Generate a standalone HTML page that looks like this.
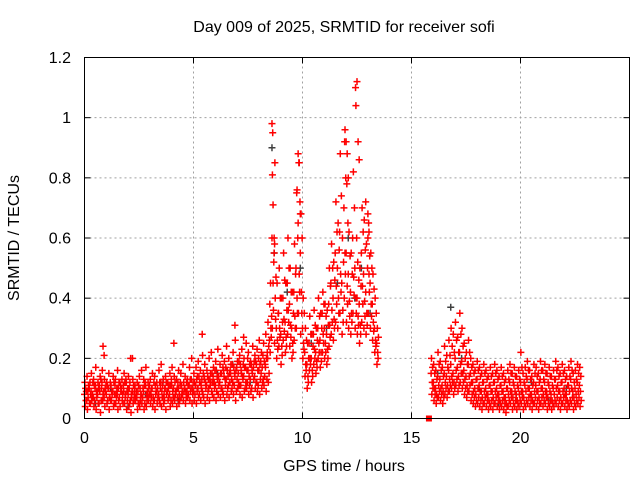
<!DOCTYPE html>
<html><head><meta charset="utf-8"><style>
html,body{margin:0;padding:0;background:#fff;}
svg{display:block;font-family:"Liberation Sans",sans-serif;}
</style></head><body>
<svg id="chart" width="640" height="480" viewBox="0 0 640 480" xmlns="http://www.w3.org/2000/svg">
<rect width="640" height="480" fill="#fff"/>
<text x="344" y="32" font-size="16" text-anchor="middle">Day 009 of 2025, SRMTID for receiver sofi</text>
<text transform="translate(19,238) rotate(-90)" font-size="16" text-anchor="middle">SRMTID / TECUs</text>
<text x="344" y="471" font-size="16" text-anchor="middle">GPS time / hours</text>
<g id="grid"></g>
<g id="gray"></g>
<g id="red"></g>
<rect x="84.5" y="57.5" width="545" height="361" fill="none" stroke="#000" stroke-width="1"/>
<g id="ticks"></g>
</svg>
<script>
const xTicks=[0,5,10,15,20,25];
const xTickLabels=["0","5","10","15","20",""];
const yTicks=[0,0.2,0.4,0.6,0.8,1,1.2];
const yTickLabels=["0","0.2","0.4","0.6","0.8","1","1.2"];
const segStarts=[0,5,8.5,15.9];
const redA1=[.08,.06,.10,.09,.07,.11,.08,.09,.12,.07,.08,.10,.06,.09,.11,.08,.07,.10,.09,.13,.08,.06,.09,.10,.07,.05,.08,.09,.11,.07,.08,.10,.06,.09,.08,.12,.07,.10,.09,.08,.11,.07,.09,.10,.12,.08,.10,.09,.11,.13];
const redA2=[.12,.14,.10,.15,.13,.17,.12,.14,.16,.13,.12,.15,.11,.14,.13,.16,.12,.13,.15,.12,.14,.20,.13,.11,.12,.14,.16,.13,.17,.12,.13,.15,.14,.12,.16,.18,.13,.14,.12,.15,.17,.14,.13,.16,.15,.18,.14,.13,.17,.20];
const redA3=[.04,.03,.05,.06,.04,.03,.05,.02,.06,.04,.05,.03,.06,.04,.05,.03,.04,.06,.05,.03,.04,.02,.05,.06,.03,.04,.05,.03,.04,.06,.05,.04,.03,.05,.06,.04,.05,.03,.06,.04,.05,.06,.04,.05,.07,.06,.05,.07,.06,.05];
const redA4=[.10,.09,.12,.07,.11,.09,.10,.13,.08,.10,.11,.07,.09,.12,.08,.10,.11,.08,.12,.09,.10,.08,.11,.07,.09,.10,.07,.11,.08,.10,.09,.07,.11,.10,.12,.09,.08,.12,.10,.11,.09,.12,.10,.08,.11,.12,.09,.11,.13,.10];
const redA5=[.06,.07,.05,.08,.06,.07,.05,.06,.08,.09,.06,.07,.08,.05,.07,.06,.09,.05,.07,.06,.05,.07,.06,.08,.05,.06,.07,.05,.06,.08,.07,.06,.08,.07,.05,.07,.06,.08,.07,.06,.07,.08,.07,.06,.08,.09,.07,.08,.09,.08];
const redA6=[.09,.11,.08,.12,.10,.09,.11,.10,.09,.11,.10,.12,.09,.08,.10,.12,.09,.11,.08,.10,.12,.09,.08,.09,.11,.08,.10,.12,.09,.11,.10,.12,.09,.08,.10,.11,.10,.09,.11,.13,.10,.09,.12,.11,.09,.10,.12,.11,.10,.12];
const redB1=[.09,.11,.10,.12,.09,.13,.11,.10,.12,.14,.11,.13,.12,.10,.14,.13,.11,.15,.12,.14,.13,.11,.15,.14,.12,.16,.13,.15,.14,.12,.16,.15,.13,.17,.20];
const redB2=[.15,.17,.19,.16,.21,.18,.16,.20,.22,.17,.19,.23,.18,.21,.19,.24,.20,.18,.22,.26,.19,.21,.23,.20,.25,.22,.19,.24,.21,.23,.26,.22,.25,.28,.32];
const redB3=[.06,.05,.07,.06,.08,.05,.07,.06,.09,.07,.06,.08,.07,.09,.06,.08,.07,.09,.08,.06,.10,.08,.07,.09,.10,.08,.09,.07,.10,.09,.08,.10,.11,.09,.12];
const redB4=[.12,.13,.14,.11,.15,.12,.14,.13,.15,.12,.16,.14,.15,.17,.13,.16,.15,.13,.17,.16,.15,.18,.14,.17,.16,.14,.18,.17,.19,.16,.18,.17,.19,.20,.24];
const redB5=[.08,.09,.08,.10,.07,.10,.09,.11,.08,.10,.09,.11,.10,.08,.11,.10,.12,.10,.11,.09,.12,.11,.13,.10,.12,.11,.10,.13,.12,.11,.13,.12,.14,.13,.15];
const redB6=[.11,.14,.12,.13,.14,.11,.13,.15,.12,.16,.14,.12,.15,.16,.17,.14,.16,.18,.15,.17,.19,.16,.18,.17,.20,.18,.16,.19,.18,.20,.19,.21,.18,.22,.26];
const redC1=[.38,.60,.55,.30,.35,.28,.40,.32,.45,.38,.30,.42,.50,.65,.55,.30,.22,.18,.25,.20,.28,.22,.30,.26,.35,.30,.28,.38,.45,.40,.55,.50,.62,.45,.70,.55,.48,.42,.60,.50,.40,.38,.55,.48,.42,.60,.45,.38,.30,.25];
const redC2=[.22,.30,.25,.20,.24,.18,.26,.22,.28,.24,.20,.26,.30,.35,.28,.20,.14,.10,.16,.12,.18,.15,.20,.17,.22,.20,.18,.24,.28,.26,.32,.30,.35,.28,.40,.32,.30,.28,.35,.30,.28,.25,.32,.30,.28,.35,.30,.26,.22,.18];
const redC3=[.45,.95,.85,.45,.50,.40,.55,.45,.60,.50,.42,.58,.75,.85,.68,.40,.30,.25,.34,.28,.36,.30,.40,.35,.42,.38,.36,.50,.58,.52,.72,.65,.88,.60,.92,.78,.62,.55,.82,1.1,.52,.50,.70,.66,.58,.65,.55,.48,.40,.30];
const redC4=[.30,.45,.40,.26,.30,.24,.33,.27,.36,.31,.25,.34,.40,.48,.42,.25,.18,.14,.20,.16,.23,.19,.25,.22,.28,.25,.23,.31,.36,.33,.44,.40,.48,.36,.55,.44,.39,.35,.47,.40,.34,.31,.44,.39,.35,.48,.38,.32,.26,.22];
const redC5=[.27,.36,.33,.23,.27,.21,.29,.24,.32,.27,.22,.30,.35,.42,.35,.23,.16,.12,.18,.14,.20,.17,.22,.19,.25,.22,.20,.27,.32,.30,.38,.35,.42,.32,.48,.38,.34,.32,.41,.35,.31,.28,.38,.34,.31,.42,.34,.29,.24,.20];
const redC6=[.34,.52,.47,.35,.40,.32,.46,.36,.50,.42,.35,.48,.60,.72,.60,.35,.26,.20,.28,.24,.31,.26,.34,.30,.38,.34,.31,.44,.50,.46,.62,.56,.74,.52,.80,.65,.54,.48,.70,.60,.46,.44,.62,.56,.50,.54,.50,.43,.35,.27];
const redD1=[.15,.12,.10,.14,.13,.11,.15,.14,.16,.18,.15,.20,.17,.22,.19,.16,.14,.18,.15,.12,.10,.13,.11,.09,.12,.10,.08,.11,.09,.12,.10,.08,.11,.09,.07,.10,.12,.09,.11,.08,.10,.12,.09,.11,.13,.10,.08,.12,.11,.09,.13,.10,.12,.09,.11,.08,.10,.13,.11,.09,.12,.10,.08,.11,.13,.09,.10,.12,.11];
const redD2=[.20,.18,.16,.22,.19,.17,.24,.21,.26,.30,.28,.32,.27,.35,.30,.25,.22,.26,.20,.18,.16,.19,.17,.15,.18,.16,.14,.17,.15,.18,.16,.14,.17,.15,.13,.16,.18,.15,.17,.14,.16,.22,.15,.17,.19,.16,.14,.18,.17,.15,.19,.16,.18,.15,.17,.14,.16,.19,.17,.15,.18,.16,.14,.17,.19,.15,.16,.18,.17];
const redD3=[.08,.06,.05,.07,.06,.05,.08,.07,.09,.10,.08,.11,.09,.12,.10,.08,.07,.09,.06,.05,.04,.05,.04,.03,.05,.04,.03,.04,.03,.05,.04,.03,.04,.03,.02,.04,.05,.03,.04,.03,.04,.05,.03,.04,.05,.04,.03,.05,.04,.03,.05,.04,.05,.03,.04,.03,.04,.05,.04,.03,.05,.04,.03,.04,.05,.03,.04,.05,.04];
const redD4=[.12,.10,.08,.11,.10,.09,.12,.11,.13,.14,.12,.16,.14,.18,.15,.13,.11,.14,.12,.09,.08,.10,.09,.07,.09,.08,.06,.09,.07,.09,.08,.06,.09,.07,.05,.08,.09,.07,.09,.06,.08,.09,.07,.09,.10,.08,.06,.09,.09,.07,.10,.08,.09,.07,.09,.06,.08,.10,.09,.07,.09,.08,.06,.09,.10,.07,.08,.09,.09];
const redD5=[.17,.15,.13,.18,.16,.14,.19,.17,.21,.24,.22,.26,.22,.28,.24,.20,.18,.22,.17,.15,.13,.16,.14,.12,.15,.13,.11,.14,.12,.15,.13,.11,.14,.12,.10,.13,.15,.12,.14,.11,.13,.17,.12,.14,.16,.13,.11,.15,.14,.12,.16,.13,.15,.12,.14,.11,.13,.16,.14,.12,.15,.13,.11,.14,.16,.12,.13,.15,.14];
const redD6=[.10,.08,.07,.09,.08,.07,.10,.09,.11,.12,.10,.13,.11,.15,.12,.10,.09,.11,.08,.07,.06,.07,.06,.05,.07,.06,.05,.06,.05,.07,.06,.05,.06,.05,.04,.06,.07,.05,.06,.05,.06,.07,.05,.06,.07,.06,.05,.07,.06,.05,.07,.06,.07,.05,.06,.05,.06,.07,.06,.05,.07,.06,.05,.06,.07,.05,.06,.07,.06];
const tPeak=[8.6,8.62,8.65,8.7,8.72,9.75,9.8,9.85,9.9,11.95,12.0,12.05,12.1,12.45,12.5,12.55,12.6,12.9,13.0,13.05,0.85,0.9,2.2,4.1,5.4,6.9,7.3];
const vPeak=[0.98,0.81,0.71,0.6,0.58,0.76,0.88,0.85,0.68,0.96,0.92,0.88,0.8,1.04,1.12,0.92,0.86,0.72,0.68,0.62,0.24,0.21,0.2,0.25,0.28,0.31,0.27];
const tGray=[0.5,1.2,2.0,2.8,3.6,4.3,5.2,6.1,6.8,7.6,8.6,8.7,9.3,9.9,10.4,11.1,11.6,12.1,12.4,12.7,13.1,16.2,16.8,17.3,18.1,19.0,19.8,20.5,21.3,22.1];
const vGray=[0.05,0.1,0.04,0.08,0.12,0.06,0.1,0.15,0.18,0.12,0.9,0.55,0.42,0.5,0.25,0.3,0.45,0.6,0.4,0.5,0.35,0.15,0.37,0.2,0.1,0.05,0.08,0.12,0.06,0.1];
const tOut=[15.8];
const vOut=[0.0];

const NS="http://www.w3.org/2000/svg";
const X0=84.5,X1=629.5,Y0=418.5,Y1=57.5;
function xs(t){return X0+(t-0)/(25-0)*(X1-X0);}
function ys(v){return Y0-(v-0)/(1.2-0)*(Y0-Y1);}
const grid=document.getElementById('grid'),ticks=document.getElementById('ticks');
function line(g,x1,y1,x2,y2,st,dash){const l=document.createElementNS(NS,'line');l.setAttribute('x1',x1);l.setAttribute('y1',y1);l.setAttribute('x2',x2);l.setAttribute('y2',y2);l.setAttribute('stroke',st);if(dash)l.setAttribute('stroke-dasharray',dash);g.appendChild(l);return l;}
xTicks.forEach((t,i)=>{const x=xs(t);
 if(t>0&&t<25){const gl=line(grid,x,Y0,x,Y1,'#a0a0a0','2,3');
 
 }
 line(ticks,x,Y0,x,Y0-6,'#000');line(ticks,x,Y1,x,Y1+6,'#000');
 const tx=document.createElementNS(NS,'text');tx.setAttribute('x',x);tx.setAttribute('y',443);tx.setAttribute('font-size','16');tx.setAttribute('text-anchor','middle');tx.textContent=xTickLabels[i];
 
 
 ticks.appendChild(tx);});
yTicks.forEach((v,i)=>{const y=ys(v);
 if(v>0&&v<1.2){const gl=line(grid,X0,y,X1,y,'#a0a0a0','2,3');
 
 }
 line(ticks,X0,y,X0+6,y,'#000');line(ticks,X1,y,X1-6,y,'#000');
 const tx=document.createElementNS(NS,'text');tx.setAttribute('x',71);tx.setAttribute('y',y+5.5);tx.setAttribute('font-size','16');tx.setAttribute('text-anchor','end');tx.textContent=yTickLabels[i];
 
 
 ticks.appendChild(tx);});
function plus(g,t,v,col,name){const x=xs(t),y=ys(v);const p=document.createElementNS(NS,'path');
 p.setAttribute('d','M'+(x-3.5)+' '+y+'h7M'+x+' '+(y-3.5)+'v7');p.setAttribute('stroke',col);p.setAttribute('stroke-width','1.5');p.setAttribute('fill','none');
 
 
 g.appendChild(p);}
const gray=document.getElementById('gray'),red=document.getElementById('red');
for(let i=0;i<tGray.length;i++)plus(gray,tGray[i],vGray[i],'#404040','gray-point');
const segs=[[redA1,redA2,redA3,redA4,redA5,redA6],[redB1,redB2,redB3,redB4,redB5,redB6],[redC1,redC2,redC3,redC4,redC5,redC6],[redD1,redD2,redD3,redD4,redD5,redD6]];
segs.forEach((arrs,s)=>{arrs.forEach((arr,k)=>{arr.forEach((v,i)=>{plus(red,segStarts[s]+i*0.1+k*0.0167,v,'#ff0000','red-point');});});});
for(let i=0;i<tPeak.length;i++)plus(red,tPeak[i],vPeak[i],'#ff0000','red-peak-point');
for(let i=0;i<tOut.length;i++){const r=document.createElementNS(NS,'rect');r.setAttribute('x',xs(tOut[i])-3);r.setAttribute('y',ys(vOut[i])-3);r.setAttribute('width',6);r.setAttribute('height',6);r.setAttribute('fill','#ff0000');
 
 
 red.appendChild(r);}
</script>
</body></html>
